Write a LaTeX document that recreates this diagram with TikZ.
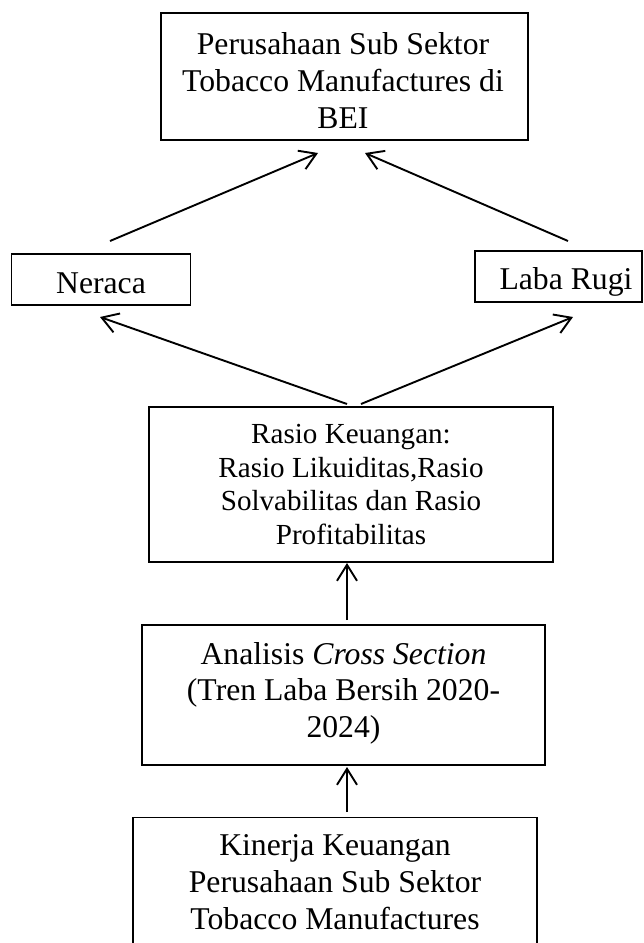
\documentclass[tikz,border=0pt]{standalone}
\usepackage{fontspec}
\setmainfont{Liberation Serif}
\usetikzlibrary{arrows.meta}
\tikzset{
  box/.style={draw=black, line width=1.3pt, inner sep=0pt, outer sep=0pt},
  bigtxt/.style={anchor=base, inner sep=0pt, font=\fontsize{31.7}{36.5}\selectfont},
  smalltxt/.style={anchor=base, inner sep=0pt, font=\fontsize{29.1}{33.5}\selectfont},
  arr/.style={line width=1.9pt, -{Straight Barb[length=16pt,width=20pt,line width=1.9pt]}}
}
\begin{document}
\begin{tikzpicture}[x=1pt,y=-1pt]
\clip (0,0) rectangle (643,943);
\fill[white] (0,0) rectangle (643,943);
% boxes
\node[box, minimum width=367pt, minimum height=127pt] (top) at (344.5,76.5) {};
\node[box, minimum width=179pt, minimum height=51pt] (ner) at (101,279.5) {};
\node[box, minimum width=167pt, minimum height=51pt] (lr) at (558.5,276.5) {};
\node[box, minimum width=404pt, minimum height=155pt] (ras) at (351,484.5) {};
\node[box, minimum width=403pt, minimum height=140pt] (ana) at (343.5,695) {};
\node[box, minimum width=404pt, minimum height=160pt] (kin) at (335,897.5) {};
% texts
\node[bigtxt] (t1) at (343,54) {Perusahaan Sub Sektor};
\node[bigtxt] (t2) at (343,91) {Tobacco Manufactures di};
\node[bigtxt] (t3) at (343,128) {BEI};
\node[bigtxt] (n1) at (101,293) {Neraca};
\node[bigtxt] (l1) at (566,289) {Laba Rugi};
\node[smalltxt] (r1) at (351,443.5) {Rasio Keuangan:};
\node[smalltxt] (r2) at (351,477) {Rasio Likuiditas,Rasio};
\node[smalltxt] (r3) at (351,510.5) {Solvabilitas dan Rasio};
\node[smalltxt] (r4) at (351,544) {Profitabilitas};
\node[bigtxt] (a1) at (343.5,664) {Analisis \textit{Cross Section}};
\node[bigtxt] (a2) at (343.5,700.5) {(Tren Laba Bersih 2020-};
\node[bigtxt] (a3) at (343.5,737) {2024)};
\node[bigtxt] (k1) at (335,855.5) {Kinerja Keuangan};
\node[bigtxt] (k2) at (335,892.5) {Perusahaan Sub Sektor};
\node[bigtxt] (k3) at (335,929.5) {Tobacco Manufactures};
% connector end points
\coordinate (nerOut) at ([shift={(9,-13)}]ner.north);
\coordinate (topInL) at ([shift={(-26.5,13)}]top.south);
\coordinate (lrOut) at ([shift={(9.5,-10)}]lr.north);
\coordinate (topInR) at ([shift={(20.5,13)}]top.south);
\coordinate (rasOutL) at ([shift={(-4,-3)}]ras.north);
\coordinate (nerIn) at ([shift={(-1,12)}]ner.south);
\coordinate (rasOutR) at ([shift={(10,-3)}]ras.north);
\coordinate (lrIn) at ([shift={(14.5,15)}]lr.south);
\coordinate (anaOut) at ([shift={(3.5,-5)}]ana.north);
\coordinate (rasIn) at ([shift={(-4,1)}]ras.south);
\coordinate (kinOut) at ([shift={(12,-5.5)}]kin.north);
\coordinate (anaIn) at ([shift={(3.5,2)}]ana.south);
% connectors
\draw[arr] (nerOut) -- (topInL);
\draw[arr] (lrOut) -- (topInR);
\draw[arr] (rasOutL) -- (nerIn);
\draw[arr] (rasOutR) -- (lrIn);
\draw[arr] (anaOut) -- (rasIn);
\draw[arr] (kinOut) -- (anaIn);
\end{tikzpicture}
\end{document}
